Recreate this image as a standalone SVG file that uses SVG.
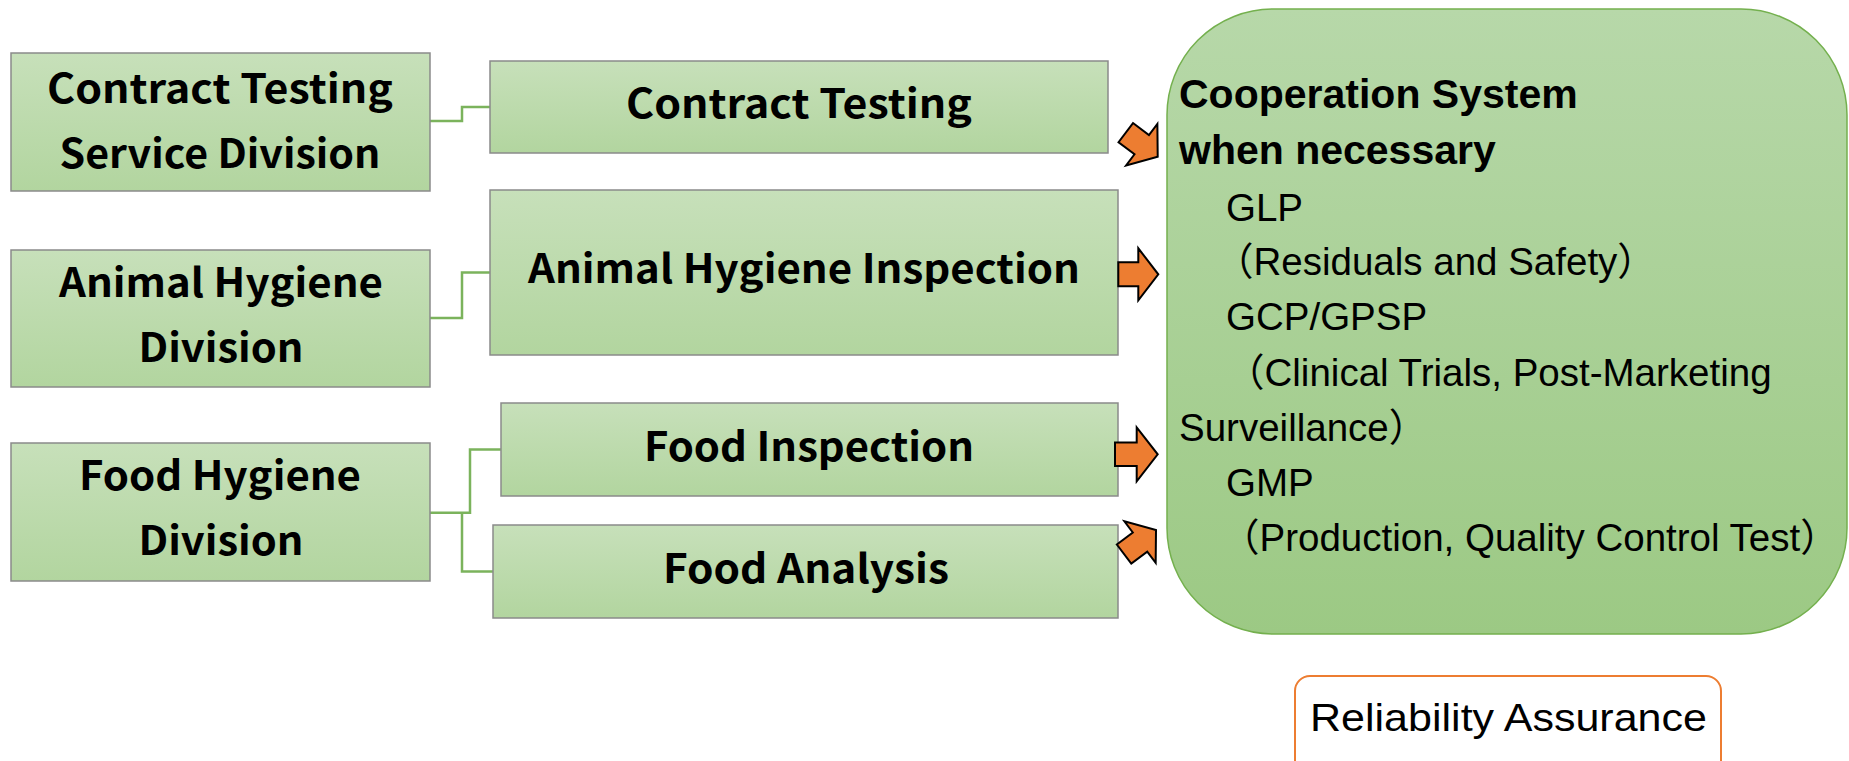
<svg xmlns="http://www.w3.org/2000/svg" width="1849" height="761" viewBox="0 0 1849 761">
  <defs>
    <linearGradient id="boxGrad" x1="0" y1="0" x2="0" y2="1">
      <stop offset="0" stop-color="#c7e0ba"/>
      <stop offset="1" stop-color="#b2d59f"/>
    </linearGradient>
    <linearGradient id="bigGrad" x1="0" y1="0" x2="0" y2="1">
      <stop offset="0" stop-color="#b7d8a9"/>
      <stop offset="1" stop-color="#9cc984"/>
    </linearGradient>
    <path id="arrowShape" d="M-40,-12 H-20 V-26 L0,0 L-20,26 V12 H-40 Z"/>
  </defs>
  <style>
    .box { fill: url(#boxGrad); stroke: #8a8a8a; stroke-width: 1.5; }
    .btxt { font-family: "Noto Sans CJK JP", "Noto Sans", sans-serif; font-weight: bold; font-size: 40px; fill: #000; text-anchor: middle; }
    .conn { fill: none; stroke: #7bb35c; stroke-width: 2.5; }
    .arrow { fill: #ed7d31; stroke: #000; stroke-width: 2; stroke-linejoin: miter; }
    .big { fill: url(#bigGrad); stroke: #74b04e; stroke-width: 1.5; }
    .hd { font-family: "Liberation Sans", Arial, sans-serif; font-weight: bold; font-size: 41px; fill: #000; }
    .rg { font-family: "Liberation Sans", Arial, "Noto Sans CJK JP", sans-serif; font-size: 38.5px; fill: #000; }
    .rel { fill: #fff; stroke: #ed7d31; stroke-width: 2; }
  </style>

  <g id="connectors">
    <path class="conn" d="M430,121 H462 V107 H490"/>
    <path class="conn" d="M430,318 H462 V272.5 H490"/>
    <path class="conn" d="M430,512.7 H470 V449.5 H501"/>
    <path class="conn" d="M462,512.7 V571.5 H493"/>
  </g>

  <g id="node-contract-testing-service-division">
    <rect class="box" x="11" y="53" width="419" height="138"/>
    <text class="btxt" x="220" y="103" textLength="346" lengthAdjust="spacingAndGlyphs">Contract Testing</text>
    <text class="btxt" x="220" y="168" textLength="321" lengthAdjust="spacingAndGlyphs">Service Division</text>
  </g>
  <g id="node-animal-hygiene-division">
    <rect class="box" x="11" y="250" width="419" height="137"/>
    <text class="btxt" x="221" y="297" textLength="324" lengthAdjust="spacingAndGlyphs">Animal Hygiene</text>
    <text class="btxt" x="221" y="362" textLength="165" lengthAdjust="spacingAndGlyphs">Division</text>
  </g>
  <g id="node-food-hygiene-division">
    <rect class="box" x="11" y="443" width="419" height="138"/>
    <text class="btxt" x="220" y="490" textLength="282" lengthAdjust="spacingAndGlyphs">Food Hygiene</text>
    <text class="btxt" x="221" y="555" textLength="165" lengthAdjust="spacingAndGlyphs">Division</text>
  </g>

  <g id="node-contract-testing">
    <rect class="box" x="490" y="61" width="618" height="92"/>
    <text class="btxt" x="799" y="118" textLength="346" lengthAdjust="spacingAndGlyphs">Contract Testing</text>
  </g>
  <g id="node-animal-hygiene-inspection">
    <rect class="box" x="490" y="190" width="628" height="165"/>
    <text class="btxt" x="804" y="283" textLength="552" lengthAdjust="spacingAndGlyphs">Animal Hygiene Inspection</text>
  </g>
  <g id="node-food-inspection">
    <rect class="box" x="501" y="403" width="617" height="93"/>
    <text class="btxt" x="809" y="461" textLength="330" lengthAdjust="spacingAndGlyphs">Food Inspection</text>
  </g>
  <g id="node-food-analysis">
    <rect class="box" x="493" y="525" width="625" height="93"/>
    <text class="btxt" x="806" y="583" textLength="286" lengthAdjust="spacingAndGlyphs">Food Analysis</text>
  </g>

  <g id="arrows">
    <use href="#arrowShape" class="arrow" transform="translate(1157.7,156.7) rotate(37)"/>
    <use href="#arrowShape" class="arrow" transform="translate(1158.3,274.3)"/>
    <path class="arrow" d="M1115,442.6 H1136.7 V427.3 L1157.7,454.3 L1136.7,481.3 V466 H1115 Z"/>
    <use href="#arrowShape" class="arrow" transform="translate(1156,530) rotate(-37)"/>
  </g>

  <g id="node-cooperation-system">
    <rect class="big" x="1167" y="9" width="680" height="625" rx="106" ry="106"/>
    <text class="hd" x="1179" y="108">Cooperation System</text>
    <text class="hd" x="1179" y="164">when necessary</text>
    <text class="rg" x="1226" y="221">GLP</text>
    <text class="rg" x="1215" y="275">（Residuals and Safety）</text>
    <text class="rg" x="1226" y="330">GCP/GPSP</text>
    <text class="rg" x="1226" y="386">（Clinical Trials, Post-Marketing</text>
    <text class="rg" x="1179" y="441">Surveillance）</text>
    <text class="rg" x="1226" y="496">GMP</text>
    <text class="rg" x="1221" y="551">（Production, Quality Control Test）</text>
  </g>

  <g id="node-reliability-assurance">
    <rect class="rel" x="1295" y="676" width="426" height="110" rx="15" ry="15"/>
    <text class="rg" x="1310" y="731" font-size="42" textLength="397" lengthAdjust="spacingAndGlyphs">Reliability Assurance</text>
  </g>
</svg>
